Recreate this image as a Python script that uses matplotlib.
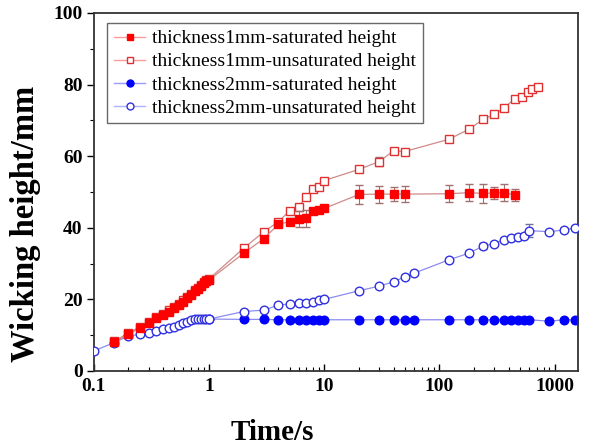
import matplotlib
matplotlib.use("Agg")
import matplotlib.pyplot as plt
from matplotlib.lines import Line2D
import numpy as np

# ---- data ----
t_early = [0.15, 0.2, 0.25, 0.3, 0.35, 0.4, 0.45, 0.5, 0.55, 0.6, 0.65, 0.7, 0.75, 0.8, 0.85, 0.9, 0.95, 1.0]
r_early = [8.0, 10.3, 12.0, 13.4, 14.7, 15.6, 16.6, 17.5, 18.4, 19.4, 20.3, 21.2, 22.2, 23.0, 23.8, 24.5, 25.0, 25.4]

t_r1s = t_early + [2, 3, 4, 5, 6, 7, 8, 9, 10, 20, 30, 40, 50, 120, 180, 240, 300, 360, 450]
y_r1s = r_early + [32.9, 37.0, 41.0, 41.7, 42.4, 42.7, 44.7, 45.0, 45.4, 49.3, 49.4, 49.4, 49.4, 49.5, 49.8, 49.6, 49.7, 49.8, 49.2]
e_r1s = [0.3] * len(r_early) + [0.8, 0.8, 0.8, 1.0, 2.2, 2.4, 0.8, 0.6, 0.6, 2.6, 2.4, 2.0, 2.2, 2.4, 2.4, 2.6, 1.8, 2.4, 1.6]

t_r1u = t_early + [2, 3, 4, 5, 6, 7, 8, 9, 10, 20, 30, 40, 50, 120, 180, 240, 300, 360, 450, 520, 590, 640, 710]
y_r1u = [v + 0.3 for v in r_early] + [34.3, 38.9, 41.7, 44.7, 45.9, 48.7, 50.7, 51.5, 53.2, 56.3, 58.5, 61.5, 61.3, 64.7, 67.5, 70.3, 71.7, 73.4, 76.0, 76.6, 78.0, 78.7, 79.2]
e_r1u = [0.3] * len(r_early) + [0.5, 0.5, 0.5, 0.5, 0.5, 0.5, 0.5, 0.5, 0.5, 0.6, 1.2, 0.6, 0.5, 0.6, 0.5, 0.5, 0.5, 0.5, 0.5, 0.5, 0.5, 0.5, 0.5]

t_b_early = [0.1, 0.15, 0.2, 0.25, 0.3, 0.35, 0.4, 0.45, 0.5, 0.55, 0.6, 0.65, 0.7, 0.75, 0.8, 0.85, 0.9, 0.95, 1.0]
b_early = [5.6, 7.9, 9.8, 10.2, 10.6, 11.2, 11.6, 11.9, 12.3, 12.8, 13.3, 13.8, 14.2, 14.4, 14.5, 14.5, 14.5, 14.5, 14.5]

t_b2s = [1, 2, 3, 4, 5, 6, 7, 8, 9, 10, 20, 30, 40, 50, 60, 120, 180, 240, 300, 360, 420, 480, 540, 600, 900, 1200, 1500]
y_b2s = [14.5, 14.4, 14.4, 14.3, 14.3, 14.3, 14.3, 14.3, 14.3, 14.3, 14.3, 14.3, 14.3, 14.3, 14.3, 14.3, 14.3, 14.3, 14.3, 14.3, 14.3, 14.3, 14.3, 14.3, 13.9, 14.3, 14.3]

t_b2u = t_b_early + [2, 3, 4, 5, 6, 7, 8, 9, 10, 20, 30, 40, 50, 60, 120, 180, 240, 300, 360, 420, 480, 540, 600, 900, 1200, 1500]
y_b2u = b_early + [16.6, 17.0, 18.4, 18.7, 19.1, 19.1, 19.4, 19.8, 20.0, 22.4, 23.7, 24.9, 26.3, 27.3, 31.0, 32.9, 34.9, 35.6, 36.6, 37.1, 37.5, 37.7, 39.2, 38.9, 39.4, 39.9]
e_b2u = [0.2] * len(b_early) + [0.3, 0.3, 0.3, 0.3, 0.3, 0.3, 0.3, 0.3, 0.3, 0.4, 0.4, 0.4, 0.4, 0.4, 0.5, 0.5, 0.8, 0.5, 0.5, 0.5, 0.5, 0.5, 1.8, 0.5, 0.5, 0.5]

labels = ["thickness1mm-saturated height", "thickness1mm-unsaturated height",
          "thickness2mm-saturated height", "thickness2mm-unsaturated height"]

# ---- plot ----
plt.rcParams['font.family'] = ['Liberation Serif', 'DejaVu Serif']
fig = plt.figure(figsize=(5.9, 4.48), dpi=100)
ax = fig.add_axes([0.159, 0.172, 0.821, 0.799])

red_line = '#d08a8a'
blue_line = '#8c8cf0'
red_mk = '#ff0000'
red_open = '#e03030'
blue_mk = '#0000ff'
blue_open = '#3030e0'

ax.errorbar(t_r1s, y_r1s, yerr=e_r1s, color=red_line, lw=0.9, marker='s', ms=5.5,
            mfc=red_mk, mec=red_mk, ecolor='#a07070', elinewidth=0.8, capsize=3, zorder=4)
ax.errorbar(t_r1u, y_r1u, yerr=e_r1u, color=red_line, lw=0.9, marker='s', ms=5.5,
            mfc='white', mec=red_open, mew=1.0, ecolor='#a07070', elinewidth=0.8, capsize=3, zorder=3)
ax.plot(t_b2s, y_b2s, color=blue_line, lw=0.9, marker='o', ms=6.2,
        mfc=blue_mk, mec=blue_mk, zorder=2)
ax.errorbar(t_b2u, y_b2u, yerr=e_b2u, color=blue_line, lw=0.9, marker='o', ms=6.2,
            mfc='white', mec=blue_open, mew=1.0, ecolor='#7070a0', elinewidth=0.8, capsize=3, zorder=3)

ax.set_xscale('log')
ax.set_xlim(0.1, 1600)
ax.set_ylim(0, 100)
ax.set_xticks([0.1, 1, 10, 100, 1000])
ax.set_xticklabels(['0.1', '1', '10', '100', '1000'])
ax.set_yticks([0, 20, 40, 60, 80, 100])
ax.set_yticks([10, 30, 50, 70, 90], minor=True)

for s in ax.spines.values():
    s.set_linewidth(1.3)
    s.set_color('#333333')

ax.tick_params(axis='x', which='both', direction='in', top=False)
ax.tick_params(axis='x', which='major', length=5, width=1.0, pad=5)
ax.tick_params(axis='x', which='minor', length=3, width=0.8)
ax.tick_params(axis='y', which='both', direction='out', right=False)
ax.tick_params(axis='y', which='major', length=5, width=1.0, pad=3)
ax.tick_params(axis='y', which='minor', length=3, width=0.8)
for lab in ax.get_xticklabels() + ax.get_yticklabels():
    lab.set_fontweight('bold')
    lab.set_fontsize(14)

ax.set_xlabel('Time/s', fontsize=21, fontweight='bold')
ax.set_ylabel('Wicking height/mm', fontsize=23.5, fontweight='bold')
ax.xaxis.set_label_coords(0.368, -0.135)
ax.yaxis.set_label_coords(-0.108, 0.41)

handles = [
    Line2D([], [], color='#ff9a9a', lw=1.0, marker='s', ms=5, mfc=red_mk, mec=red_mk),
    Line2D([], [], color='#ff9a9a', lw=1.0, marker='s', ms=5, mfc='white', mec=red_open),
    Line2D([], [], color='#9a9aff', lw=1.0, marker='o', ms=5, mfc=blue_mk, mec=blue_mk),
    Line2D([], [], color='#b0b0ff', lw=1.0, marker='o', ms=5, mfc='white', mec=blue_open),
]
leg = ax.legend(handles, labels, loc='upper left', bbox_to_anchor=(0.028, 0.972), fontsize=14,
                frameon=True, fancybox=False, edgecolor='#444444', handlelength=1.6,
                borderpad=0.35, labelspacing=0.28, handletextpad=0.35, borderaxespad=0)
leg.get_frame().set_linewidth(1.0)

fig.savefig('out.png', dpi=100)
